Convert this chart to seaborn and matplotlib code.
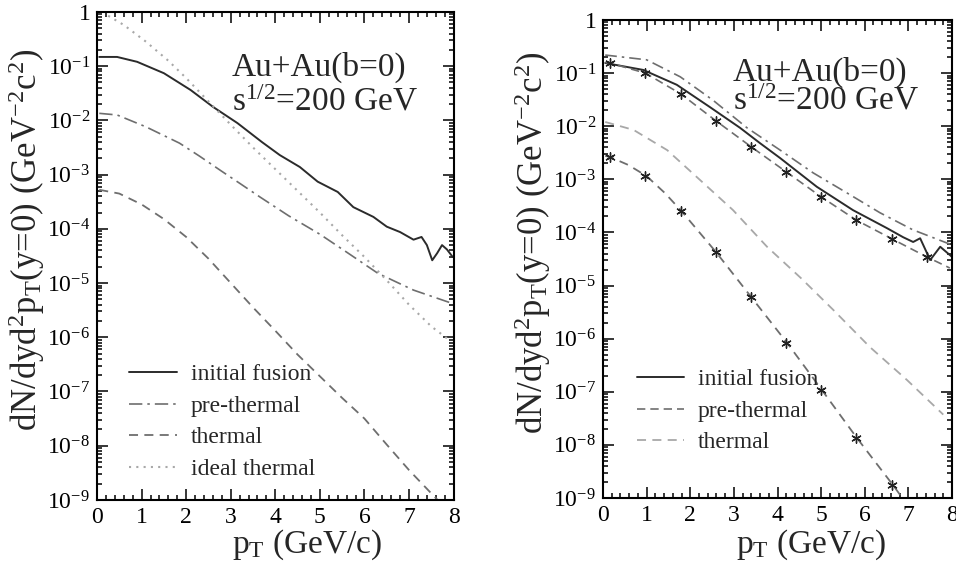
import numpy as np
import matplotlib
matplotlib.use('Agg')
import matplotlib.pyplot as plt
from matplotlib.ticker import MultipleLocator, LogLocator, FixedLocator, NullFormatter
import seaborn as sns

# values, stored as log10 of dN/dyd2pT
# left panel
pt_fus_L = [0.05, 0.45, 0.9, 1.5, 2.1, 2.6, 3.15, 3.7, 4.1, 4.55, 4.95, 5.4, 5.75, 6.2, 6.5, 6.8, 7.1, 7.28, 7.4, 7.52, 7.63, 7.74, 7.85, 7.98]
lg_fus_L = [-0.83, -0.83, -0.92, -1.13, -1.44, -1.75, -2.05, -2.4, -2.64, -2.86, -3.13, -3.32, -3.6, -3.78, -3.96, -4.06, -4.2, -4.15, -4.3, -4.58, -4.45, -4.3, -4.38, -4.52]

pt_pre_L = [0.05, 0.45, 1.1, 1.85, 2.3, 2.8, 3.2, 3.65, 4.3, 5.0, 5.6, 6.3, 7.1, 7.95]
lg_pre_L = [-1.87, -1.9, -2.12, -2.42, -2.66, -2.94, -3.16, -3.41, -3.76, -4.1, -4.43, -4.82, -5.13, -5.37]

pt_th_L = [0.05, 0.5, 1.0, 1.5, 2.0, 2.5, 3.0, 3.5, 4.0, 4.5, 5.0, 5.5, 6.0, 6.5, 7.0, 7.5, 7.7]
lg_th_L = [-3.28, -3.35, -3.55, -3.82, -4.15, -4.55, -5.0, -5.45, -5.88, -6.32, -6.72, -7.12, -7.5, -7.98, -8.45, -8.88, -9.05]

pt_id_L = [0.25, 0.6, 1.1, 1.6, 2.0, 2.5, 3.0, 3.5, 4.0, 4.5, 5.0, 5.5, 6.0, 6.5, 7.0, 7.5, 7.9]
lg_id_L = [-0.07, -0.24, -0.55, -0.9, -1.22, -1.65, -2.08, -2.5, -2.9, -3.3, -3.7, -4.12, -4.52, -4.95, -5.4, -5.8, -6.05]

# right panel
pt_fus_R = [0.05, 0.92, 1.69, 2.45, 3.14, 3.6, 4.06, 4.9, 5.73, 6.51, 6.88, 7.11, 7.27, 7.5, 7.73, 8.0]
lg_fus_R = [-0.81, -0.94, -1.22, -1.64, -2.03, -2.32, -2.6, -3.14, -3.58, -3.92, -4.09, -4.18, -4.11, -4.52, -4.27, -4.46]

pt_pre_hi_R = [0.05, 1.0, 1.77, 2.52, 3.3, 4.06, 4.82, 5.6, 6.35, 7.1, 7.95]
lg_pre_hi_R = [-0.66, -0.75, -1.07, -1.51, -2.03, -2.45, -2.88, -3.26, -3.63, -3.95, -4.22]

pt_pre_lo_R = [0.05, 0.16, 0.97, 1.78, 2.59, 3.4, 4.2, 5.0, 5.81, 6.62, 7.42, 7.95]
lg_pre_lo_R = [-0.8, -0.81, -1.0, -1.39, -1.9, -2.39, -2.86, -3.33, -3.77, -4.12, -4.46, -4.67]

pt_th_hi_R = [0.05, 0.7, 1.47, 2.22, 2.98, 3.76, 4.55, 5.28, 6.12, 6.97, 7.8]
lg_th_hi_R = [-1.92, -2.07, -2.45, -3.01, -3.58, -4.27, -4.87, -5.46, -6.16, -6.78, -7.43]

pt_th_lo_R = [0.05, 0.16, 0.58, 1.0, 1.42, 1.8, 2.59, 3.4, 4.22, 5.02, 5.82, 6.65, 6.95]
lg_th_lo_R = [-2.56, -2.58, -2.73, -2.94, -3.26, -3.6, -4.37, -5.22, -6.08, -6.97, -7.87, -8.76, -9.1]

# star markers
pt_star = [0.16, 0.97, 1.78, 2.59, 3.4, 4.2, 5.0, 5.81, 6.62, 7.42]
lg_star_pre = [-0.81, -1.0, -1.39, -1.9, -2.39, -2.86, -3.33, -3.77, -4.12, -4.46]
lg_star_th = [-2.58, -2.94, -3.6, -4.37, -5.22, -6.08, -6.97, -7.87, -8.76]

ytick_exp = [-9, -8, -7, -6, -5, -4, -3, -2, -1, 0]
ytick_labels = [r'$10^{-9}$', r'$10^{-8}$', r'$10^{-7}$', r'$10^{-6}$', r'$10^{-5}$',
                r'$10^{-4}$', r'$10^{-3}$', r'$10^{-2}$', r'$10^{-1}$', r'$1\ \ \,$']

sns.set_theme(style='ticks')
plt.rcParams['font.family'] = ['Liberation Serif', 'DejaVu Serif']
plt.rcParams['mathtext.fontset'] = 'custom'
plt.rcParams['mathtext.rm'] = 'Liberation Serif'
plt.rcParams['mathtext.it'] = 'Liberation Serif:italic'
plt.rcParams['axes.linewidth'] = 1.5

fig = plt.figure(figsize=(9.56, 5.63), dpi=100)
axL = fig.add_axes([0.1015, 0.112, 0.373, 0.8668])
axR = fig.add_axes([0.6308, 0.1155, 0.365, 0.849])

DARK = '#2b2b2b'
GREY = '#6e6e6e'
LIGHT = '#a8a8a8'


def curve(ax, x, lg, **kw):
    sns.lineplot(x=x, y=10.0 ** np.array(lg), ax=ax, sort=False, **kw)


# left
curve(axL, pt_fus_L, lg_fus_L, color=DARK, lw=1.4, label='initial fusion')
curve(axL, pt_pre_L, lg_pre_L, color=GREY, lw=1.2, linestyle=(0, (8, 3, 1.5, 3)), label='pre-thermal')
curve(axL, pt_th_L, lg_th_L, color=GREY, lw=1.3, linestyle=(0, (5, 3.5)), label='thermal')
curve(axL, pt_id_L, lg_id_L, color=LIGHT, lw=1.5, linestyle=(0, (1, 2.5)), label='ideal thermal')

# right
curve(axR, pt_fus_R, lg_fus_R, color=DARK, lw=1.4, label='initial fusion')
curve(axR, pt_pre_lo_R, lg_pre_lo_R, color=GREY, lw=1.2, linestyle=(0, (5, 3)), label='pre-thermal')
curve(axR, pt_th_hi_R, lg_th_hi_R, color=LIGHT, lw=1.3, linestyle=(0, (5, 3.5)), label='thermal')
curve(axR, pt_pre_hi_R, lg_pre_hi_R, color=GREY, lw=1.2, linestyle=(0, (7, 3, 1.5, 3)))
curve(axR, pt_th_lo_R, lg_th_lo_R, color=GREY, lw=1.3, linestyle=(0, (5, 3.5)))
sns.scatterplot(x=pt_star, y=10.0 ** np.array(lg_star_pre), ax=axR, marker=(6, 2, 0),
                s=45, color='#222222', linewidth=1.0, zorder=5)
sns.scatterplot(x=pt_star[:len(lg_star_th)], y=10.0 ** np.array(lg_star_th), ax=axR, marker=(6, 2, 0),
                s=45, color='#222222', linewidth=1.0, zorder=5)

for ax in (axL, axR):
    ax.set_yscale('log')
    ax.set_xlim(0, 8)
    ax.set_ylim(1e-9, 1)
    ax.xaxis.set_major_locator(MultipleLocator(1))
    ax.xaxis.set_minor_locator(MultipleLocator(0.2))
    ax.yaxis.set_major_locator(FixedLocator([10.0 ** e for e in ytick_exp]))
    ax.yaxis.set_minor_locator(LogLocator(base=10, subs=np.arange(2, 10)))
    ax.yaxis.set_minor_formatter(NullFormatter())
    ax.set_yticklabels(ytick_labels)
    ax.tick_params(which='both', direction='in', top=True, right=True, colors='black',
                   labelsize=17, width=1.1)
    ax.tick_params(which='major', length=8, pad=5)
    ax.tick_params(which='minor', length=3.5)
    for sp in ax.spines.values():
        sp.set_color('black')
    ax.set_xlabel(r'p$_\mathrm{T}$ (GeV/c)', fontsize=24)
    ax.set_ylabel(r'dN/dyd$^2$p$_\mathrm{T}$(y=0) (GeV$^{-2}$c$^2$)', fontsize=25)
    ax.legend(loc='upper left', frameon=False, fontsize=17, handlelength=2.0,
              handletextpad=0.6, labelspacing=0.42, borderaxespad=0)

axL.xaxis.set_label_coords(0.59, -0.056)
axR.xaxis.set_label_coords(0.596, -0.062)
axL.yaxis.set_label_coords(-0.14, 0.533)
axR.yaxis.set_label_coords(-0.143, 0.533)

axL.legend_.set_bbox_to_anchor((0.064, 0.298), transform=axL.transAxes)
axR.legend_.set_bbox_to_anchor((0.069, 0.29), transform=axR.transAxes)

axL.text(0.378, 0.887, 'Au+Au(b=0)', transform=axL.transAxes, fontsize=24, va='center')
axL.text(0.378, 0.815, r's$^{1/2}$=200 GeV', transform=axL.transAxes, fontsize=24, va='center')
axR.text(0.372, 0.891, 'Au+Au(b=0)', transform=axR.transAxes, fontsize=24, va='center')
axR.text(0.372, 0.83, r's$^{1/2}$=200 GeV', transform=axR.transAxes, fontsize=24, va='center')

fig.savefig('out.png', dpi=100)
